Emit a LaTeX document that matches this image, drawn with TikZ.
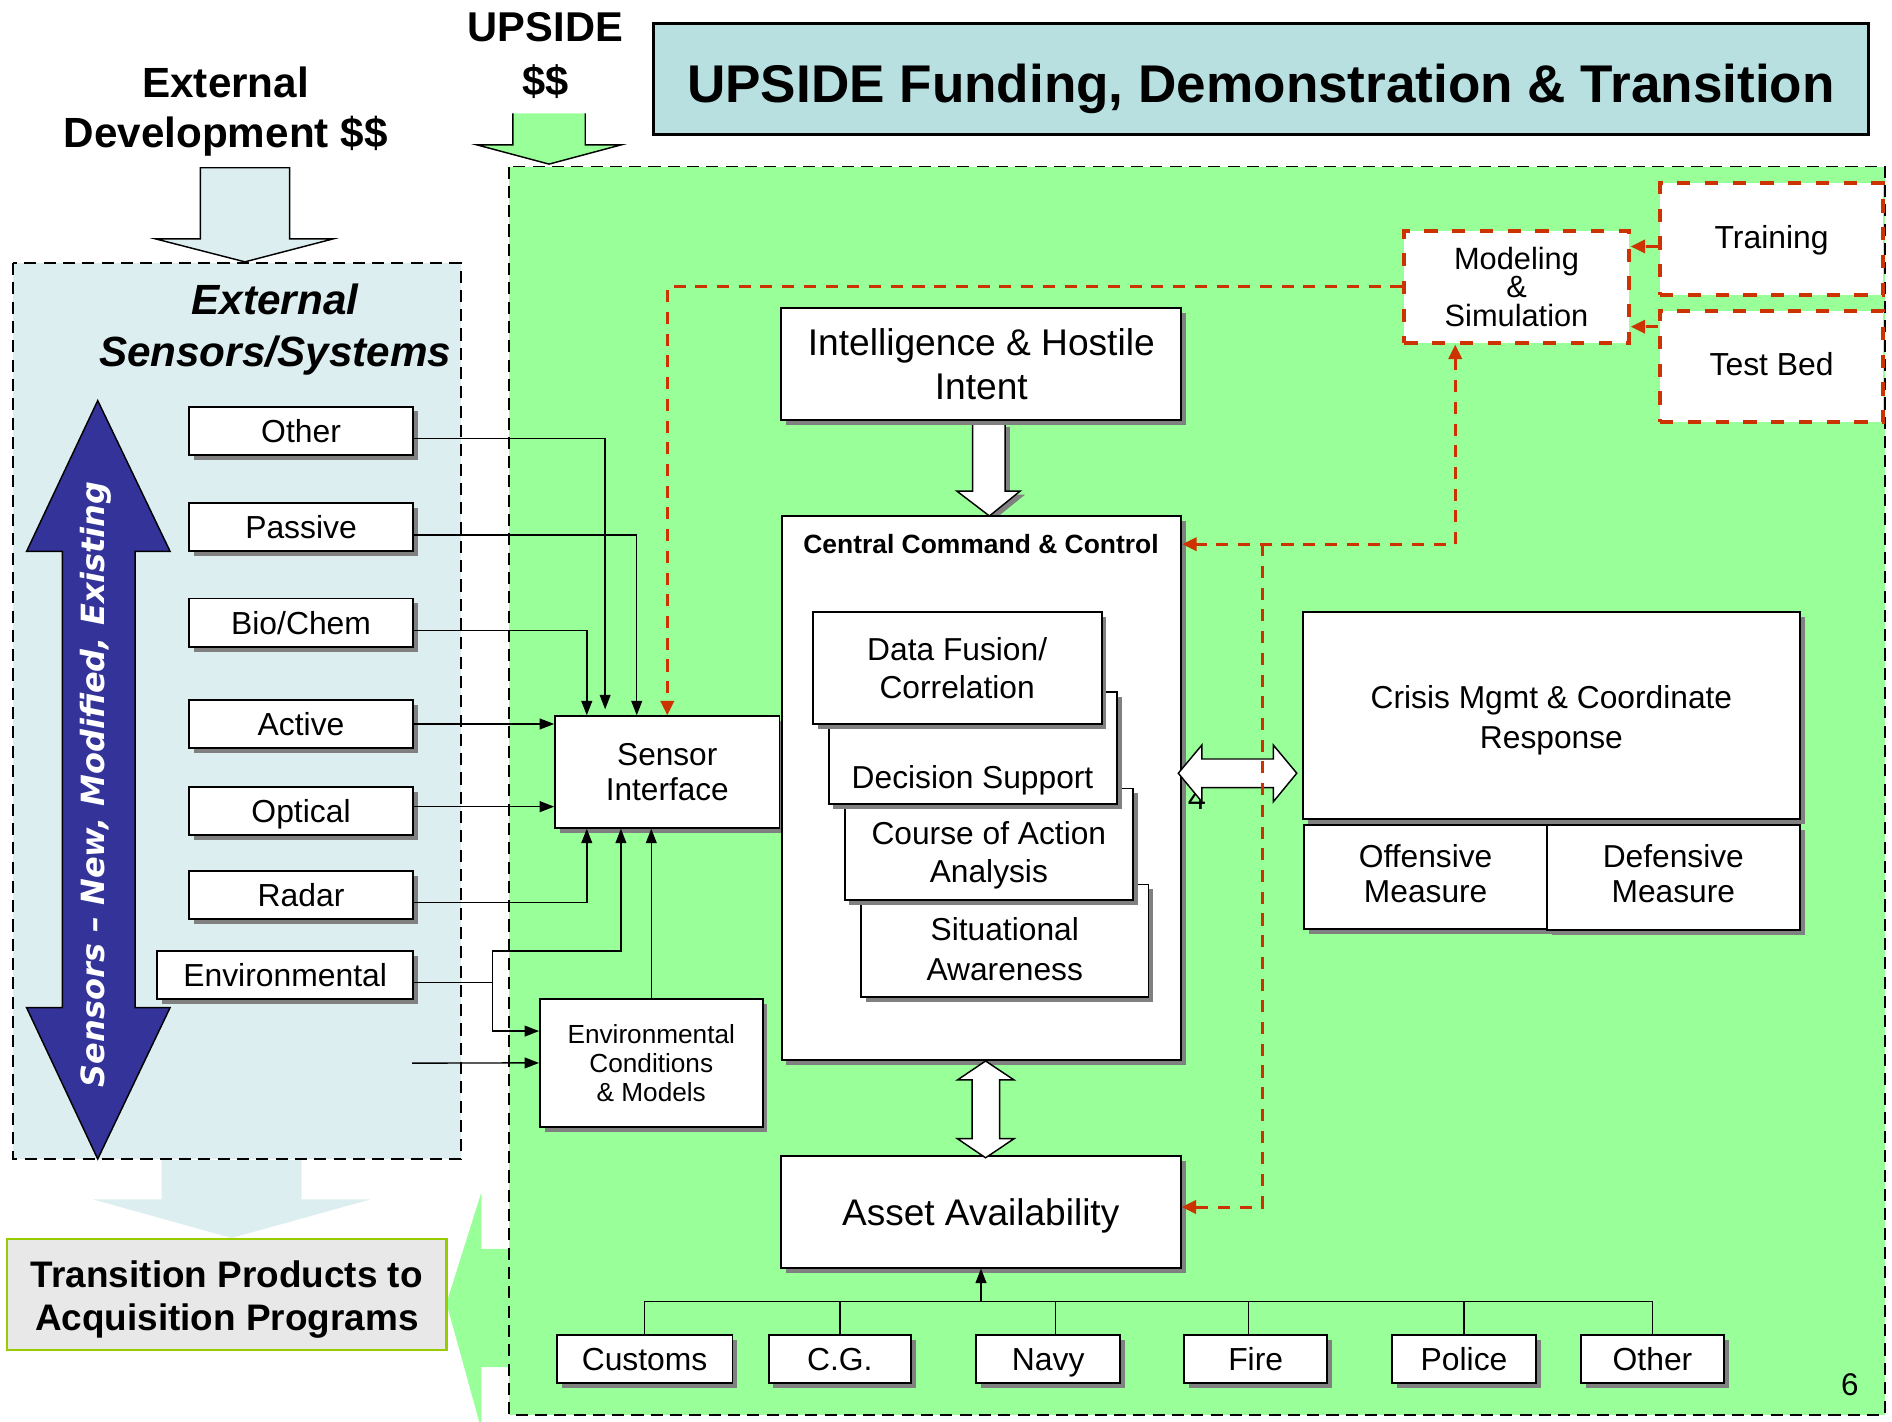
\documentclass[tikz,border=0pt]{standalone}
\usepackage{fontspec}
\setmainfont{Liberation Sans}
\newfontfamily\verd{DejaVu Sans}
\usetikzlibrary{arrows.meta,shadows}
\definecolor{grn}{HTML}{99FF99}
\definecolor{lblue}{HTML}{DDEEF0}
\definecolor{tblue}{HTML}{B9E0E1}
\definecolor{navyc}{HTML}{333399}
\definecolor{redc}{HTML}{CC3300}
\definecolor{shd}{HTML}{808080}
\definecolor{tgray}{HTML}{E8E8E8}
\definecolor{tgreen}{HTML}{99CC00}
\newcommand\fsz[2]{\fontsize{#1pt}{#2pt}\selectfont}
\begin{document}
\begin{tikzpicture}[x=1pt,y=-1pt,
  sbox/.style={draw=black, line width=1.5pt, fill=white, inner sep=0pt, align=center,
     drop shadow={shadow xshift=4pt, shadow yshift=-4pt, fill=shd, opacity=1}},
  cc/.style={text height=#1, text depth=0pt},
  nf/.style={font=\fsz{26.4}{31}, cc=18.9pt},
  rbox/.style={draw=redc, line width=3.2pt, dash pattern=on 11pt off 12pt, fill=white, inner sep=0pt, align=center},
  panel/.style={draw=black, line width=1.4pt, dash pattern=on 10pt off 6pt},
  conn/.style={line width=1.2pt, -{Triangle[length=12pt,width=9pt]}},
  rdash/.style={draw=redc, line width=2.5pt, dash pattern=on 10pt off 8pt, -{Triangle[length=12pt,width=11pt]}},
  blk/.style={draw=black, line width=1.2pt, fill=white}
]
\clip (0,0) rectangle (1568,1178);
% ---------- panels
\draw[panel, fill=lblue] (11,218) rectangle (382,960.6);
\fill[lblue] (134,961.5) -- (250,961.5) -- (250,994) -- (307,994) -- (192,1026) -- (77,994) -- (134,994) -- cycle;
\fill[grn] (422,1035) -- (399,1035) -- (399,988) -- (370,1080) -- (399,1185) -- (399,1133) -- (422,1133) -- cycle;
\draw[panel, fill=grn] (422,138) rectangle (1562,1172.7);
% ---------- top arrows
\draw[fill=lblue, line width=1.2pt] (166,139) -- (240,139) -- (240,198) -- (276,198) -- (203,217) -- (129,198) -- (166,198) -- cycle;
\fill[grn] (425,94) -- (485,94) -- (485,120) -- (515,120) -- (455,136) -- (395,120) -- (425,120) -- cycle;
\draw[line width=1.2pt] (425,94) -- (425,120) -- (395,120) -- (455,136) -- (515,120) -- (485,120) -- (485,94);
% ---------- headings
\node[draw=black, line width=2pt, fill=tblue, minimum width=1007pt, minimum height=92pt, inner sep=0pt] (titlebox) at (1045,65.4) {};
\node[font=\bfseries\fsz{44}{50}, cc=31.5pt] (title) at ([yshift=-3.6pt]titlebox.center) {UPSIDE Funding, Demonstration \& Transition};
\node[font=\bfseries\fsz{34.5}{44}, align=center] (upside) at (452,46) {UPSIDE\\\$\$};
\node[font=\bfseries\fsz{35}{42}, align=center] (extdev) at (187,92.5) {External\\Development \$\$};
\node[font=\bfseries\itshape\fsz{35}{43}, align=center] (extsens) at (228,273) {External\\Sensors/Systems};
% ---------- navy double arrow
\draw[fill=navyc, line width=1.2pt] (81,332) -- (141,457) -- (112,457) -- (112,835) -- (141,835) -- (81,960.5) -- (22,835) -- (51.7,835) -- (51.7,457) -- (22,457) -- cycle;
\node[rotate=90, text=white, font=\verd\bfseries\itshape\fsz{26.5}{27}] (sensarrow) at (79,650) {Sensors – New, Modified, Existing};
% ---------- transition
\node[draw=tgreen, line width=2pt, fill=tgray, minimum width=364pt, minimum height=92pt, inner sep=0pt] (trans) at (188,1073) {};
\node[align=center, font=\bfseries\fsz{30.6}{36}] (transt) at ([yshift=-4pt]trans.center) {Transition Products to\\Acquisition Programs};
% ---------- sensor boxes
\node[sbox, nf, minimum width=186pt, minimum height=40pt] (s1) at (249.5,357) {Other};
\node[sbox, nf, minimum width=186pt, minimum height=40pt] (s2) at (249.5,436.6) {Passive};
\node[sbox, nf, minimum width=186pt, minimum height=40pt] (s3) at (249.5,516) {Bio/Chem};
\node[sbox, nf, minimum width=186pt, minimum height=40pt] (s4) at (249.5,600) {Active};
\node[sbox, nf, minimum width=186pt, minimum height=40pt] (s5) at (249.5,672) {Optical};
\node[sbox, nf, minimum width=186pt, minimum height=40pt] (s6) at (249.5,741.7) {Radar};
\node[sbox, nf, minimum width=212.5pt, minimum height=40pt] (s7) at (236.3,808) {Environmental};
% ---------- sensor interface etc.
\node[sbox, font=\fsz{26.2}{29}, minimum width=186pt, minimum height=92.5pt] (si) at (553,639.8) {Sensor\\Interface};
\node[sbox, font=\fsz{21.7}{24}, minimum width=184.5pt, minimum height=105.8pt] (envc) at (539.75,880.9) {Environmental\\Conditions\\\& Models};
% ---------- intel & arrow
\draw[blk, drop shadow={shadow xshift=4pt, shadow yshift=-3pt, fill=shd, opacity=1}] (806,350.8) -- (833,350.8) -- (833,407) -- (845.4,407) -- (820,427.6) -- (793,407) -- (806,407) -- cycle;
\node[sbox, font=\fsz{30.8}{37}, minimum width=331.5pt, minimum height=92.5pt] (intel) at (813.25,301.75) {Intelligence \& Hostile\\Intent};
% ---------- central command
\node[sbox, minimum width=331.2pt, minimum height=451pt] (ccc) at (813.4,653) {};
\node[font=\bfseries\fsz{21.9}{26}, cc=15.7pt] (ccct) at (813,451) {Central Command \& Control};
\node[sbox, minimum width=238.2pt, minimum height=93pt] (sa) at (832.7,779.5) {};
\node[font=\fsz{26.3}{33}, align=center] (sat) at ([yshift=-7pt]sa.center) {Situational\\Awareness};
\node[sbox, minimum width=239pt, minimum height=92.6pt] (coa) at (819.5,699.7) {};
\node[font=\fsz{26.3}{32}, align=center] (coat) at ([yshift=-9pt]coa.center) {Course of Action\\Analysis};
\node[sbox, minimum width=239.3pt, minimum height=92.5pt] (ds) at (806.35,620.05) {};
\node[font=\fsz{26.3}{31}, cc=18.8pt] (dst) at (806,643.7) {Decision Support};
\node[sbox, font=\fsz{26.3}{31}, minimum width=239.5pt, minimum height=92.5pt] (df) at (793.25,553.75) {Data Fusion/\\Correlation};
% ---------- crisis
\node[sbox, minimum width=411.5pt, minimum height=172pt] (crisis) at (1285.75,593) {};
\node[font=\fsz{26.3}{32.5}, align=center] (crisist) at ([yshift=-4pt]crisis.center) {Crisis Mgmt \& Coordinate\\Response};
\node[sbox, minimum width=201pt, minimum height=86.3pt] (off) at (1181.5,726.85) {};
\node[font=\fsz{26.3}{29}, align=center] (offt) at ([yshift=3pt]off.center) {Offensive\\Measure};
\node[sbox, minimum width=209.5pt, minimum height=87.3pt] (def) at (1386.75,727.35) {};
\node[font=\fsz{26.3}{29}, align=center] (deft) at ([yshift=3pt]def.center) {Defensive\\Measure};
% ---------- asset
\node[sbox, font=\fsz{30.7}{36}, cc=22pt, minimum width=331.5pt, minimum height=92.6pt] (asset) at (812.75,1004.3) {Asset Availability};
\node[sbox, nf, minimum width=145.6pt, minimum height=39.6pt] (customs) at (534.2,1126.2) {Customs};
\node[sbox, nf, minimum width=118pt, minimum height=39.6pt] (cg) at (696,1126.2) {C.G.};
\node[sbox, nf, minimum width=119.7pt, minimum height=39.6pt] (navy) at (868.65,1126.2) {Navy};
\node[sbox, nf, minimum width=118.7pt, minimum height=39.6pt] (fire) at (1040.65,1126.2) {Fire};
\node[sbox, nf, minimum width=118.9pt, minimum height=39.6pt] (police) at (1213.35,1126.2) {Police};
\node[sbox, nf, minimum width=119pt, minimum height=39.6pt] (other2) at (1369.5,1126.2) {Other};
\node[font=\fsz{26}{26}, cc=18.6pt] (pg) at (1533,1147) {6};
% ---------- modeling & sim
\node[rbox, font=\fsz{25.5}{23.5}, minimum width=186pt, minimum height=92.6pt] (mands) at (1256.8,237.7) {Modeling\\\&\\Simulation};
\node[rbox, nf, minimum width=184.8pt, minimum height=92.5pt] (training) at (1468.2,198.25) {};
\node[nf] (trainingt) at ([yshift=2pt]training.center) {Training};
\node[rbox, nf, minimum width=184.8pt, minimum height=92.5pt] (testbed) at (1468.2,303.75) {};
\node[nf] (testbedt) at ([yshift=2pt]testbed.center) {Test Bed};
% ---------- black connectors
\draw[conn, shorten >=5pt] ([yshift=-6.5pt]s1.east) -| ([xshift=-51.5pt]si.north);
\draw[conn] ([yshift=-6.8pt]s2.east) -| ([xshift=-25.3pt]si.north);
\draw[conn] ([yshift=-6.7pt]s3.east) -| ([xshift=-66.7pt]si.north);
\draw[conn] (s4.east) -- (s4.east -| si.west);
\draw[conn] ([yshift=3.5pt]s5.east) -- ([yshift=3.5pt]s5.east -| si.west);
\draw[conn] ([yshift=-6.3pt]s6.east) -| ([xshift=-66.7pt]si.south);
\coordinate (ej) at (408,814.4);
\draw[line width=1.2pt] ([yshift=-6.4pt]s7.east) -- (ej);
\draw[conn] (ej) -- ++(0,-26.4) -| ([xshift=-38.4pt]si.south);
\draw[conn] (ej) |- ([yshift=26.4pt]envc.west);
\coordinate (stray) at (341.6,881);
\draw[conn] (stray) -- (envc.west);
\draw[conn] (envc.north) -- (envc.north |- si.south);
\coordinate (bus) at (813,1078.8);
\draw[line width=1.2pt] (customs.north) |- (bus);
\draw[line width=1.2pt] (cg.north) |- (bus);
\draw[line width=1.2pt] ([xshift=6pt]navy.north) |- (bus);
\draw[line width=1.2pt] ([xshift=-6pt]fire.north) |- (bus);
\draw[line width=1.2pt] (police.north) |- (bus);
\draw[line width=1.2pt] (other2.north) |- (bus);
\draw[conn] (bus) -- (bus |- asset.south);
% ---------- block double arrows
\node[font=\fsz{27}{27}, cc=19.3pt] (four) at (992,661) {4};
\draw[blk] (976.5,640.8) -- (996,617.5) -- (996,629) -- (1055.3,629) -- (1055.3,617.5) -- (1074.7,640.8) -- (1055.3,664.4) -- (1055.3,652.8) -- (996,652.8) -- (996,664.4) -- cycle;
\draw[blk] (816.8,879.3) -- (840.4,895) -- (828.4,895) -- (828.4,943.7) -- (840.4,943.7) -- (816.8,959.5) -- (793.5,943.7) -- (805.6,943.7) -- (805.6,895) -- (793.5,895) -- cycle;
% ---------- red dashed connectors
\draw[rdash] (mands.west) -| (si.north);
\coordinate (tw) at ([yshift=-6pt]training.west);
\draw[rdash] (tw) -- (tw -| mands.east);
\coordinate (bw) at ([yshift=33pt]testbed.west);
\draw[rdash] (bw) -- (bw -| mands.east);
\coordinate (jn) at (1206,451);
\draw[rdash, {Triangle[length=12pt,width=11pt]}-{Triangle[length=12pt,width=11pt]}] (jn |- mands.south) |- (jn -| ccc.east);
\coordinate (jb) at (1046,451);
\draw[rdash] (jb) |- ([yshift=4pt]asset.east);
\end{tikzpicture}
\end{document}
